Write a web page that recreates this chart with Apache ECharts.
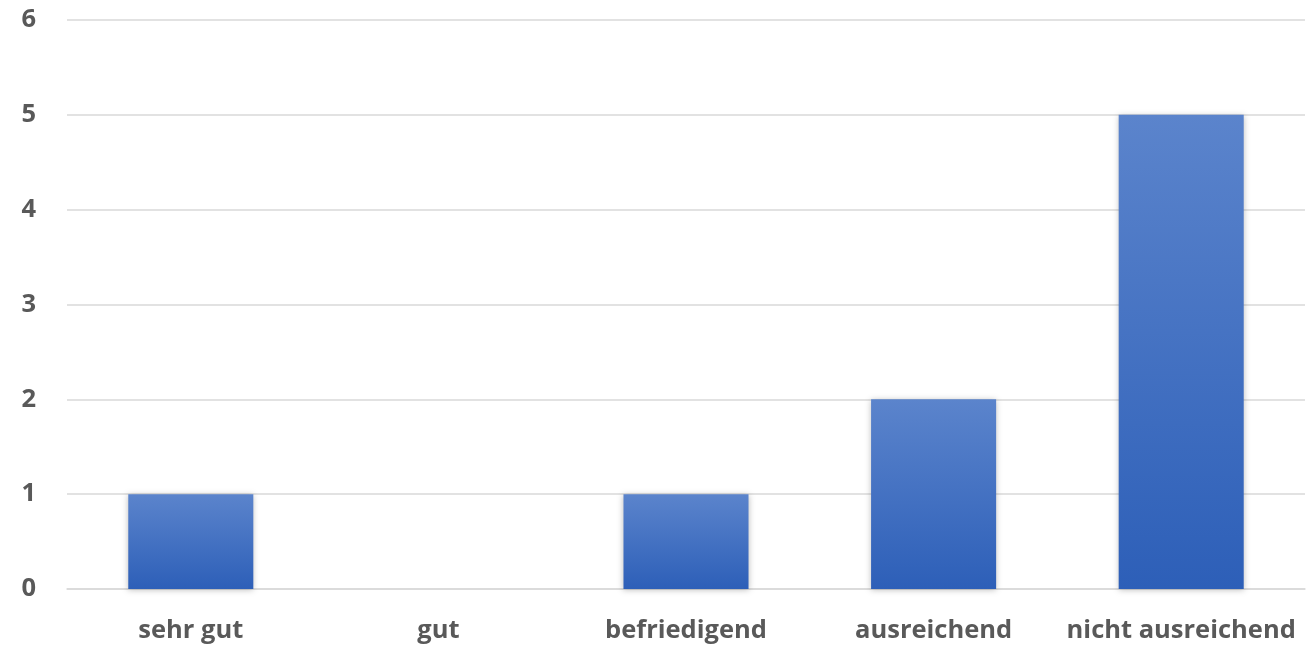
<!DOCTYPE html>
<html>
<head>
<meta charset="utf-8">
<script src="https://cdn.jsdelivr.net/npm/echarts@6/dist/echarts.min.js"></script>
<style>
html,body{margin:0;padding:0;background:#fff;}
#chart{width:1314px;height:646px;}
</style>
</head>
<body>
<div id="chart"></div>
<script>
const categories = ["sehr gut", "gut", "befriedigend", "ausreichend", "nicht ausreichend"];
const values = [1, 0, 1, 2, 5];

const chart = echarts.init(document.getElementById('chart'));
chart.setOption({
  animation: false,
  grid: {left: 67, right: 9, top: 20, bottom: 57, containLabel: false},
  xAxis: {
    type: 'category',
    data: categories,
    axisLine: {show: true, lineStyle: {color: '#d9d9d9', width: 1.5}},
    axisTick: {show: false},
    axisLabel: {interval: 0, hideOverlap: false, color: '#595959', fontSize: 25.5, fontWeight: 'bold', fontFamily: 'Open Sans', margin: 29}
  },
  yAxis: {
    type: 'value',
    min: 0, max: 6, interval: 1,
    axisLine: {show: false},
    axisTick: {show: false},
    splitLine: {lineStyle: {color: '#d9d9d9', width: 1.5}},
    axisLabel: {color: '#595959', fontSize: 25.5, fontWeight: 'bold', fontFamily: 'Open Sans', margin: 31}
  },
  series: [{
    type: 'bar',
    data: values,
    barWidth: '50.5%',
    itemStyle: {
      color: new echarts.graphic.LinearGradient(0, 0, 0, 1, [
        {offset: 0, color: '#5b84cc'},
        {offset: 1, color: '#2d5fb8'}
      ]),
      shadowColor: 'rgba(0,0,0,0.25)',
      shadowBlur: 6,
      shadowOffsetX: 0,
      shadowOffsetY: 1
    }
  }]
});
</script>
</body>
</html>
